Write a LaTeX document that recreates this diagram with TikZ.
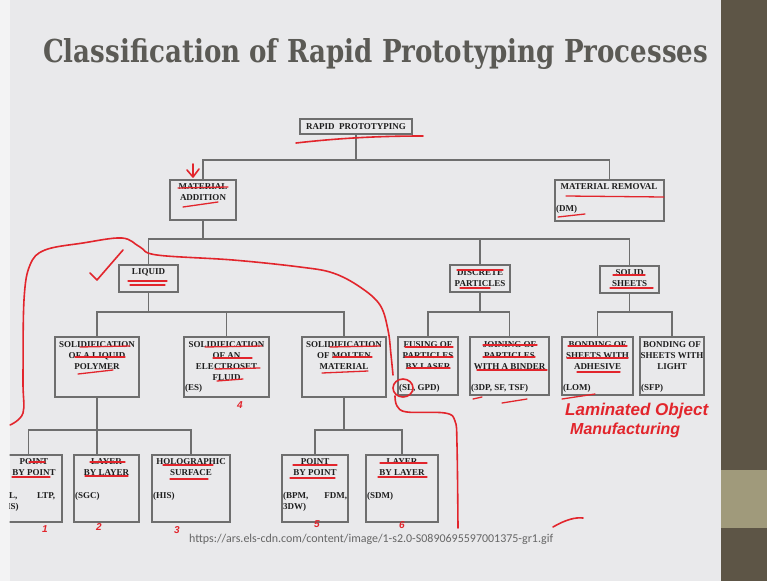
\documentclass[tikz,border=0pt]{standalone}
\usepackage{fontspec}
\setmainfont{Liberation Serif}
\newfontfamily\titlefont{DejaVu Serif}
\newfontfamily\urlfont{Carlito}
\newfontfamily\handfont{Liberation Sans}
\definecolor{slidebg}{HTML}{E9E9EB}
\definecolor{stripbg}{HTML}{F3F3F4}
\definecolor{banddark}{HTML}{5D5546}
\definecolor{bandlight}{HTML}{A09A7B}
\definecolor{titlegray}{HTML}{5B5A55}
\definecolor{boxgray}{HTML}{6E6E6E}
\definecolor{textcol}{HTML}{1E1E1E}
\definecolor{urlgray}{HTML}{666666}
\definecolor{inkred}{HTML}{E2252C}
\tikzset{
  box/.style={draw=boxgray, line width=1.1pt, inner sep=0pt, rectangle},
  conn/.style={draw=boxgray, line width=1.1pt},
  txt/.style={font=\bfseries\fontsize{9}{11}\selectfont, align=center, inner sep=0pt, text=textcol},
  ptxt/.style={font=\bfseries\fontsize{9}{11}\selectfont, inner sep=0pt, text=textcol, anchor=base west},
  ink/.style={draw=inkred, line width=1.6pt, line cap=round, line join=round},
  inkthin/.style={draw=inkred, line width=1.3pt, line cap=round},
  hand/.style={text=inkred, inner sep=0pt, font=\handfont\itshape\bfseries\fontsize{13}{13}\selectfont},
  handnum/.style={text=inkred, inner sep=0pt, font=\handfont\itshape\bfseries\fontsize{10}{10}\selectfont}
}
\begin{document}
\begin{tikzpicture}[x=1pt,y=-1pt]
\useasboundingbox (0,0) rectangle (767,581);
% background
\fill[stripbg] (0,0) rectangle (9.5,581);
\fill[slidebg] (9.5,0) rectangle (721,581);
\fill[banddark] (721,0) rectangle (767,581);
\fill[bandlight] (721,470) rectangle (767,528);
% title
\node[anchor=base west, inner sep=0pt, text=titlegray] (title) at (43,62)
  {\resizebox{665pt}{24pt}{\titlefont\bfseries Classification of Rapid Prototyping Processes}};
\begin{scope}
\clip (9.5,0) rectangle (721,581);
% boxes
\node[box, minimum width=112, minimum height=15] (rp) at (356,126.5) {};
\node[box, minimum width=66, minimum height=40] (ma) at (203,200) {};
\node[box, minimum width=109, minimum height=41] (mr) at (609.5,200.5) {};
\node[box, minimum width=59, minimum height=27] (liq) at (148.5,278.5) {};
\node[box, minimum width=60, minimum height=27] (dp) at (480,278.5) {};
\node[box, minimum width=59, minimum height=27] (ss) at (629.5,279.5) {};
\node[box, minimum width=84, minimum height=60] (lp) at (97,367) {};
\node[box, minimum width=85, minimum height=60] (es) at (226.5,367) {};
\node[box, minimum width=84, minimum height=60] (mm) at (344,367) {};
\node[box, minimum width=60, minimum height=58] (fp) at (428,366) {};
\node[box, minimum width=79, minimum height=58] (jp) at (509.5,366) {};
\node[box, minimum width=71, minimum height=58] (ba) at (597.5,366) {};
\node[box, minimum width=64, minimum height=58] (bl) at (672,366) {};
\node[box, minimum width=67, minimum height=67] (pp1) at (28.5,488.5) {};
\node[box, minimum width=65, minimum height=67] (ll1) at (106.5,488.5) {};
\node[box, minimum width=78, minimum height=67] (hs) at (191,488.5) {};
\node[box, minimum width=66, minimum height=67] (pp2) at (315,488.5) {};
\node[box, minimum width=72, minimum height=67] (ll2) at (402,488.5) {};
% bar levels
\coordinate (y1) at (0,160);
\coordinate (y2) at (0,239);
\coordinate (y3) at (0,312);
\coordinate (y4) at (0,430);
% connectors
\draw[conn] (rp.south) -- (rp.south |- y1) -| (ma.north);
\draw[conn] (rp.south |- y1) -| (mr.north);
\draw[conn] (ma.south) -- (ma.south |- y2) -| (liq.north);
\draw[conn] (ma.south |- y2) -| (dp.north);
\draw[conn] (ma.south |- y2) -| (ss.north);
\draw[conn] (liq.south) -- (liq.south |- y3) -| (lp.north);
\draw[conn] (liq.south |- y3) -| (es.north);
\draw[conn] (liq.south |- y3) -| (mm.north);
\draw[conn] (dp.south) -- (dp.south |- y3) -| (fp.north);
\draw[conn] (dp.south |- y3) -| (jp.north);
\draw[conn] (ss.south) -- (ss.south |- y3) -| (ba.north);
\draw[conn] (ss.south |- y3) -| (bl.north);
\draw[conn] (lp.south) -- (lp.south |- ll1.north);
\draw[conn] (lp.south |- y4) -| (pp1.north);
\draw[conn] (lp.south |- y4) -| (hs.north);
\draw[conn] (mm.south) -- (mm.south |- y4) -| (pp2.north);
\draw[conn] (mm.south |- y4) -| (ll2.north);
% texts
\node[txt] (t_rp) at (356,127) {RAPID\ \ PROTOTYPING};
\node[txt, anchor=north] (t_ma) at (203,183) {MATERIAL\\ADDITION};
\node[txt] (t_mr) at (609,187) {MATERIAL REMOVAL};
\node[ptxt] (p_mr) at (556,211) {(DM)};
\node[txt] (t_liq) at (148.5,272) {LIQUID};
\node[txt, anchor=north] (t_dp) at (480,269) {DISCRETE\\PARTICLES};
\node[txt, anchor=north] (t_ss) at (629.5,269) {SOLID\\SHEETS};
\node[txt, anchor=north] (t_lp) at (97,341) {SOLIDIFICATION\\OF A LIQUID\\POLYMER};
\node[txt, anchor=north] (t_es) at (226.5,341) {SOLIDIFICATION\\OF AN\\ELECTROSET\\FLUID};
\node[ptxt] (p_es) at (185,390) {(ES)};
\node[txt, anchor=north] (t_mm) at (344,341) {SOLIDIFICATION\\OF MOLTEN\\MATERIAL};
\node[txt, anchor=north] (t_fp) at (428,341) {FUSING OF\\PARTICLES\\BY LASER};
\node[ptxt] (p_fp) at (399,390) {(SL, GPD)};
\node[txt, anchor=north] (t_jp) at (509.5,341) {JOINING OF\\PARTICLES\\WITH A BINDER};
\node[ptxt] (p_jp) at (471,390) {(3DP, SF, TSF)};
\node[txt, anchor=north] (t_ba) at (597.5,341) {BONDING OF\\SHEETS WITH\\ADHESIVE};
\node[ptxt] (p_ba) at (563,390) {(LOM)};
\node[txt, anchor=north] (t_bl) at (672,341) {BONDING OF\\SHEETS WITH\\LIGHT};
\node[ptxt] (p_bl) at (641,390) {(SFP)};
\node[txt, anchor=north] (t_pp1) at (34,458) {POINT\\BY POINT};
\node[ptxt] (p_pp1a) at (1,498) {\makebox[54pt][l]{(SL,\hfill LTP,}};
\node[ptxt] (p_pp1b) at (1,509) {BIS)};
\node[txt, anchor=north] (t_ll1) at (106.5,458) {LAYER\\BY LAYER};
\node[ptxt] (p_ll1) at (75,498) {(SGC)};
\node[txt, anchor=north] (t_hs) at (191,458) {HOLOGRAPHIC\\SURFACE};
\node[ptxt] (p_hs) at (153,498) {(HIS)};
\node[txt, anchor=north] (t_pp2) at (315,458) {POINT\\BY POINT};
\node[ptxt] (p_pp2a) at (283,498) {\makebox[64pt][l]{(BPM,\hfill FDM,}};
\node[ptxt] (p_pp2b) at (283,509) {3DW)};
\node[txt, anchor=north] (t_ll2) at (402,458) {LAYER\\BY LAYER};
\node[ptxt] (p_ll2) at (367,498) {(SDM)};
% url
\node[anchor=base west, inner sep=0pt, text=urlgray] (url) at (189,542)
  {\resizebox{364pt}{!}{\urlfont\fontsize{9}{9}\selectfont https://ars.els-cdn.com/content/image/1-s2.0-S0890695597001375-gr1.gif}};
% red annotations
\draw[ink] (296,143) .. controls (340,138) and (380,136) .. (423,136);
\draw[ink] (193,164) -- (193,176);
\draw[ink] (187,170) -- (193,177) -- (199,169);
\draw[inkthin] (178,188) -- (228,187);
\draw[inkthin] (183,207) -- (218,202);
\draw[inkthin] (566,196) -- (664,197);
\draw[inkthin] (558,217) -- (585,214);
\draw[inkthin] (128,281) -- (167,281);
\draw[inkthin] (130,285) -- (165,285);
\draw[ink] (90,273) -- (97,280) -- (123,250);
\draw[inkthin] (80,347) -- (130,346);
\draw[inkthin] (75,357) -- (125,357);
\draw[inkthin] (78,374) -- (113,370);
\draw[inkthin] (205,347) -- (262,346);
\draw[inkthin] (213,358) -- (252,358);
\draw[inkthin] (215,369) -- (260,368);
\draw[inkthin] (217,381) -- (243,379);
\draw[inkthin] (330,347) -- (380,346);
\draw[inkthin] (333,357) -- (372,357);
\draw[inkthin] (322,373) -- (368,371);
\draw[inkthin] (457,270) -- (503,270);
\draw[inkthin] (460,288) -- (490,288);
\draw[inkthin] (613,275) -- (645,275);
\draw[inkthin] (610,288) -- (653,288);
\draw[inkthin] (405,347) -- (453,347);
\draw[inkthin] (405,357) -- (453,357);
\draw[inkthin] (407,368) -- (450,368);
\draw[inkthin] (483,345) -- (537,345);
\draw[inkthin] (483,357) -- (535,357);
\draw[inkthin] (477,370) -- (547,370);
\draw[inkthin] (568,346) -- (627,346);
\draw[inkthin] (567,358) -- (628,358);
\draw[inkthin] (577,372) -- (620,372);
\draw[inkthin] (473,399) -- (482,397);
\draw[inkthin] (502,403) -- (527,399);
\draw[inkthin] (562,399) -- (595,394);
\draw[inkthin] (29,462) -- (45,462);
\draw[inkthin] (12,477) -- (50,477);
\draw[inkthin] (90,462) -- (125,462);
\draw[inkthin] (85,476) -- (128,476);
\draw[inkthin] (163,465) -- (213,465);
\draw[inkthin] (170,479) -- (208,479);
\draw[inkthin] (293,465) -- (337,465);
\draw[inkthin] (290,478) -- (335,478);
\draw[inkthin] (380,463) -- (427,463);
\draw[inkthin] (378,477) -- (427,477);
% big curve
\draw[ink] plot[smooth, tension=0.6] coordinates {(10,425) (23,413) (23,380) (24,300) (30,265) (45,250) (83,243) (122,238) (140,247) (157,255) (233,260) (300,267) (333,273) (360,287) (380,305) (388,330) (391,355) (393,375)};
\draw[ink] (403,388) ellipse [x radius=10, y radius=9];
\draw[ink] plot[smooth, tension=0.6] coordinates {(395,396) (397,406) (407,412) (445,413) (455,421) (457,445) (458,528)};
\draw[ink] (553,527) .. controls (565,520) and (575,517) .. (583,518);
\end{scope}
% handwriting
\node[hand, anchor=base west] (hw1) at (565,415) {\resizebox{143pt}{!}{Laminated Object}};
\node[hand, anchor=base west] (hw2) at (570,434) {\resizebox{110pt}{!}{Manufacturing}};
\node[handnum] (n1) at (45,529) {1};
\node[handnum] (n2) at (99,527) {2};
\node[handnum] (n3) at (177,530) {3};
\node[handnum] (n4) at (240,405) {4};
\node[handnum] (n5) at (317,524) {5};
\node[handnum] (n6) at (402,525) {6};
\end{tikzpicture}
\end{document}
